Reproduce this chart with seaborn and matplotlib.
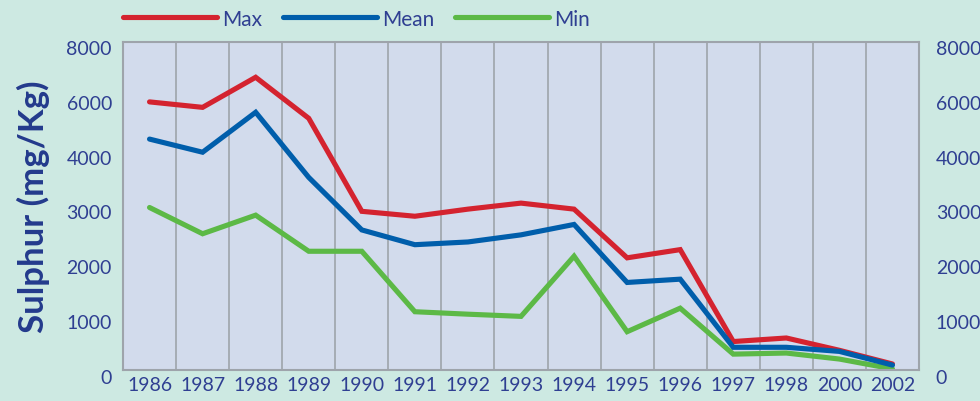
import matplotlib
matplotlib.use("Agg")
import matplotlib.pyplot as plt
import matplotlib.transforms as mtransforms
import numpy as np
import pandas as pd
import seaborn as sns

# Valores (mg/Kg)
years = ["1986", "1987", "1988", "1989", "1990", "1991", "1992", "1993",
         "1994", "1995", "1996", "1997", "1998", "2000", "2002"]
max_vals = [5800, 5600, 6700, 5200, 2900, 2810, 2940, 3050,
            2940, 2050, 2200, 520, 585, 360, 110]
mean_vals = [4440, 3980, 5420, 3520, 2560, 2290, 2340, 2470,
             2660, 1600, 1660, 415, 415, 340, 90]
min_vals = [2970, 2490, 2830, 2170, 2170, 1065, 1020, 980,
            2080, 700, 1130, 290, 310, 200, 20]
series_names = ["Max", "Mean", "Min"]
series_colors = {"Max": "#d4232f", "Mean": "#005eab", "Min": "#5cb946"}
ytick_vals = [0, 1000, 2000, 3000, 4000, 6000, 8000]

df = pd.DataFrame({"Year": years, "Max": max_vals, "Mean": mean_vals, "Min": min_vals})
df_long = df.melt(id_vars="Year", var_name="Series", value_name="Sulphur")


# A escala do eixo y e estranha: 0-4000 de 1000 em 1000, depois 4000-8000 de 2000 em 2000
def forward(v):
    v = np.asarray(v, dtype=float)
    return np.where(v <= 4000, v, 4000 + (v - 4000) / 2)


def inverse(p):
    p = np.asarray(p, dtype=float)
    return np.where(p <= 4000, p, 4000 + (p - 4000) * 2)


sns.set_style("white")
plt.rcParams["font.family"] = ["Lato", "DejaVu Sans"]

text_color = "#2f3f92"
grid_color = "#9ea4ab"

fig = plt.figure(figsize=(9.8, 4.02), dpi=100)
fig.patch.set_facecolor("#cde9e2")
ax = fig.add_axes([123 / 980, 1 - 371 / 402, (919 - 123) / 980, (371 - 42.7) / 402])
ax.set_facecolor("#d2dbec")

# ordem de desenho: azul por cima
handles = {}
for name in ["Max", "Min", "Mean"]:
    sub = df_long[df_long["Series"] == name]
    sns.lineplot(data=sub, x="Year", y="Sulphur", color=series_colors[name],
                 linewidth=3.7, sort=False, ax=ax, label=name,
                 solid_capstyle="round", solid_joinstyle="miter")
    handles[name] = ax.lines[-1]

ax.set_yscale("function", functions=(forward, inverse))
ax.set_ylim(0, 8000)
ax.set_xlim(-0.5, len(years) - 0.5)
ax.set_yticks(ytick_vals)
ax.set_yticklabels([str(v) for v in ytick_vals])

# linhas verticais entre as categorias
for b in np.arange(0.5, len(years) - 0.5, 1.0):
    ax.axvline(b, color=grid_color, linewidth=1.2, zorder=0.5)

for s in ax.spines.values():
    s.set_color(grid_color)
    s.set_linewidth(1.5)

ax.tick_params(axis="y", length=0, labelsize=14, labelcolor=text_color,
               labelright=True, pad=8)
ax.tick_params(axis="x", length=0, labelsize=14, labelcolor=text_color, pad=4)
for t in ax.yaxis.get_major_ticks():
    t.label2.set_horizontalalignment("left")
    off1 = mtransforms.ScaledTranslation(0, -4 / 72, fig.dpi_scale_trans)
    off2 = mtransforms.ScaledTranslation(4 / 72, -4 / 72, fig.dpi_scale_trans)
    t.label1.set_transform(t.label1.get_transform() + off1)
    t.label2.set_transform(t.label2.get_transform() + off2)

ax.set_xlabel("")
ax.set_ylabel("Sulphur (mg/Kg)", fontsize=25, fontweight="bold",
              color="#233a8c", labelpad=12)

leg = ax.legend([handles[n] for n in series_names], series_names,
                loc="lower left", bbox_to_anchor=(0, 1.04), ncol=3,
                frameon=False, borderpad=0, borderaxespad=0,
                handlelength=4.5, handletextpad=0.25, columnspacing=1.0,
                fontsize=15)
for txt in leg.get_texts():
    txt.set_color(text_color)

fig.savefig("out.png", dpi=100, facecolor=fig.get_facecolor())
